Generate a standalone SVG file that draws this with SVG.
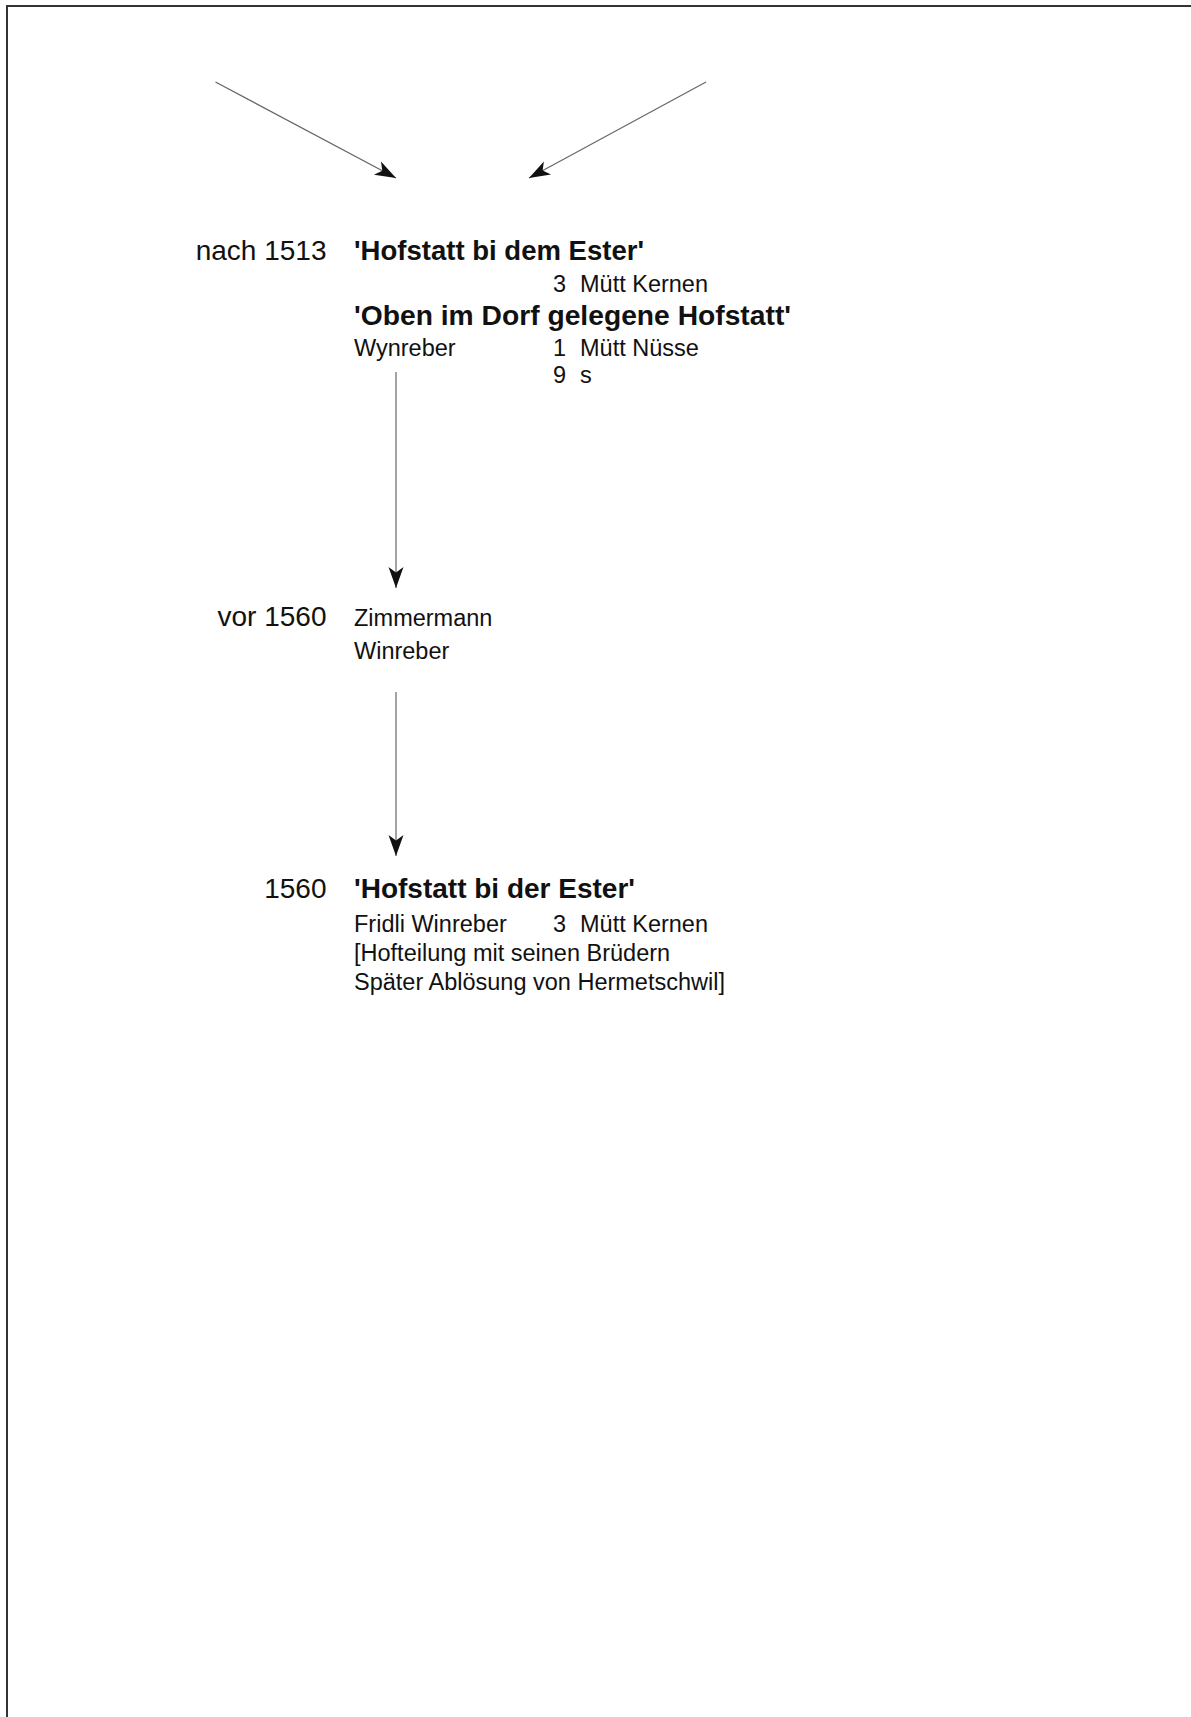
<svg xmlns="http://www.w3.org/2000/svg" width="1191" height="1717" viewBox="0 0 1191 1717">
<style>
text{font-family:"Liberation Sans",Arial,sans-serif;fill:#111}
.yr{font-size:28px;text-anchor:end}
.tt{font-size:27.8px;font-weight:bold}
.tx{font-size:23.5px}
.ln{stroke:#666;stroke-width:1.2;fill:none}
.fr{stroke:#333;stroke-width:2;fill:none}
</style>
<defs>
<marker id="ah" markerUnits="userSpaceOnUse" markerWidth="24" markerHeight="18" refX="0" refY="0" viewBox="-22 -9 24 18" orient="auto" overflow="visible">
<path d="M0,0 L-21,-7.5 L-15.5,0 L-21,7.5 Z" fill="#111"/>
</marker>
</defs>
<rect width="1191" height="1717" fill="#fff"/>
<g id="frame">
<path class="fr" d="M7,1717 L7,6 L1191,6"/>
</g>
<g id="connectors">
<line class="ln" x1="215.5" y1="82" x2="396" y2="178" marker-end="url(#ah)"/>
<line class="ln" x1="706" y1="82" x2="529" y2="178" marker-end="url(#ah)"/>
<line class="ln" x1="396" y1="372" x2="396" y2="588" marker-end="url(#ah)"/>
<line class="ln" x1="396" y1="692" x2="396" y2="856" marker-end="url(#ah)"/>
</g>
<g id="node-1513">
<text class="yr" x="326.5" y="259.5">nach 1513</text>
<text class="tt" x="354" y="259.5" textLength="290" lengthAdjust="spacingAndGlyphs">'Hofstatt bi dem Ester'</text>
<text class="tx" x="553" y="292">3</text>
<text class="tx" x="580" y="292">Mütt Kernen</text>
<text class="tt" x="354" y="325" textLength="437" lengthAdjust="spacingAndGlyphs">'Oben im Dorf gelegene Hofstatt'</text>
<text class="tx" x="354" y="355.5">Wynreber</text>
<text class="tx" x="553" y="355.5">1</text>
<text class="tx" x="580" y="355.5">Mütt Nüsse</text>
<text class="tx" x="553" y="383">9</text>
<text class="tx" x="580" y="383">s</text>
</g>
<g id="node-vor1560">
<text class="yr" x="326.5" y="626">vor 1560</text>
<text class="tx" x="354" y="626">Zimmermann</text>
<text class="tx" x="354" y="659">Winreber</text>
</g>
<g id="node-1560">
<text class="yr" x="326.5" y="898">1560</text>
<text class="tt" x="354" y="898" textLength="281" lengthAdjust="spacingAndGlyphs">'Hofstatt bi der Ester'</text>
<text class="tx" x="354" y="931.5">Fridli Winreber</text>
<text class="tx" x="553" y="931.5">3</text>
<text class="tx" x="580" y="931.5">Mütt Kernen</text>
<text class="tx" x="354" y="961">[Hofteilung mit seinen Brüdern</text>
<text class="tx" x="354" y="990">Später Ablösung von Hermetschwil]</text>
</g>
</svg>
